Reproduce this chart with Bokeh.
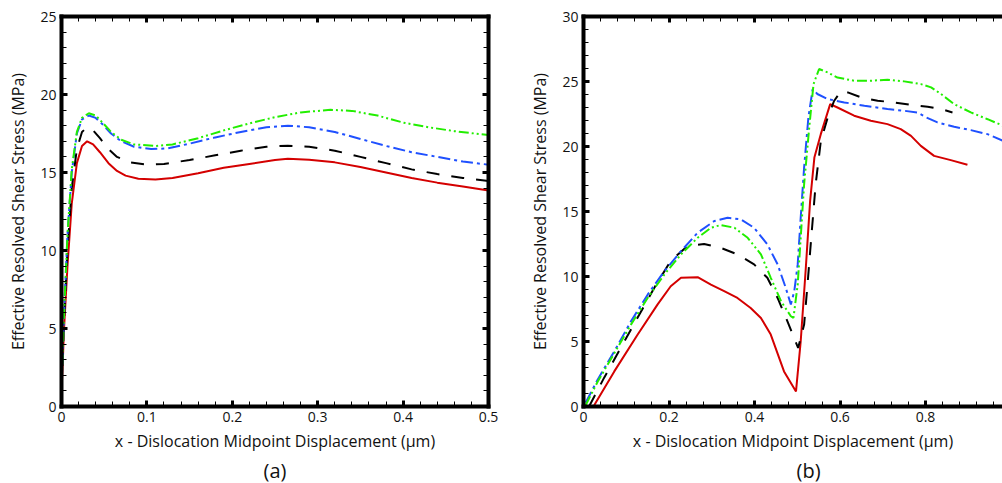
from bokeh.plotting import figure
from bokeh.models import FixedTicker, LinearAxis, Range1d, Title
from bokeh.layouts import row
from bokeh.embed import file_html
from bokeh.resources import INLINE

FONT = "Open Sans"

# ---------------- Panel (a) data ----------------
a_red_x = [0, 0.003, 0.007, 0.012, 0.018, 0.024, 0.030, 0.037, 0.045, 0.055, 0.065, 0.075, 0.09, 0.11, 0.13, 0.16,
           0.19, 0.22, 0.25, 0.265, 0.29, 0.32, 0.35, 0.38, 0.41, 0.44, 0.47, 0.5]
a_red_y = [0.8, 5, 9, 13, 15.6, 16.7, 17.0, 16.8, 16.3, 15.6, 15.1, 14.8, 14.6, 14.55, 14.65, 14.95,
           15.3, 15.55, 15.8, 15.88, 15.82, 15.65, 15.35, 15.0, 14.65, 14.35, 14.1, 13.85]

a_blk_x = [0, 0.003, 0.007, 0.012, 0.018, 0.024, 0.030, 0.037, 0.045, 0.055, 0.065, 0.08, 0.1, 0.12, 0.15, 0.18,
           0.21, 0.24, 0.265, 0.29, 0.32, 0.35, 0.38, 0.41, 0.44, 0.47, 0.5]
a_blk_y = [1, 5.5, 10, 14, 16.5, 17.6, 17.9, 17.7, 17.2, 16.5, 16.0, 15.65, 15.5, 15.55, 15.8, 16.1,
           16.4, 16.65, 16.72, 16.65, 16.4, 16.0, 15.6, 15.2, 14.9, 14.65, 14.45]

a_blu_x = [0, 0.003, 0.007, 0.012, 0.018, 0.024, 0.032, 0.04, 0.048, 0.058, 0.07, 0.085, 0.105, 0.125, 0.15, 0.18,
           0.21, 0.24, 0.265, 0.29, 0.32, 0.35, 0.38, 0.41, 0.44, 0.47, 0.5]
a_blu_y = [1.2, 6, 11, 15, 17.5, 18.4, 18.65, 18.5, 18.1, 17.5, 17.0, 16.65, 16.5, 16.55, 16.85, 17.25,
           17.6, 17.9, 18.0, 17.9, 17.6, 17.15, 16.7, 16.3, 16.0, 15.7, 15.5]

a_grn_x = [0, 0.003, 0.007, 0.012, 0.018, 0.024, 0.032, 0.04, 0.048, 0.058, 0.07, 0.085, 0.11, 0.13, 0.16, 0.19,
           0.22, 0.25, 0.28, 0.315, 0.34, 0.37, 0.4, 0.43, 0.46, 0.5]
a_grn_y = [1.2, 6, 11, 15.2, 17.6, 18.5, 18.8, 18.65, 18.2, 17.6, 17.1, 16.8, 16.7, 16.8, 17.2, 17.7,
           18.15, 18.55, 18.85, 19.02, 18.95, 18.65, 18.2, 17.9, 17.65, 17.4]

a_xticks = [0, 0.1, 0.2, 0.3, 0.4, 0.5]
a_xlabels = ["0", "0.1", "0.2", "0.3", "0.4", "0.5"]
a_yticks = [0, 5, 10, 15, 20, 25]
a_ylabels = ["0", "5", "10", "15", "20", "25"]

# ---------------- Panel (b) data ----------------
b_red_x = [0.025, 0.072, 0.126, 0.173, 0.204, 0.228, 0.267, 0.298, 0.329, 0.36, 0.391, 0.415, 0.438, 0.469, 0.497,
           0.508, 0.52, 0.53, 0.54, 0.555, 0.577, 0.594, 0.633, 0.672, 0.711, 0.742, 0.766, 0.789, 0.82, 0.859, 0.898]
b_red_y = [0.1, 2.7, 5.5, 7.84, 9.25, 9.9, 9.95, 9.38, 8.87, 8.35, 7.58, 6.81, 5.53, 2.7, 1.16,
           5.0, 10.67, 15.8, 19.15, 20.95, 23.26, 23.0, 22.37, 21.98, 21.72, 21.34, 20.82, 20.05, 19.28, 18.95, 18.59]

b_blk_x = [0.013, 0.048, 0.087, 0.126, 0.165, 0.204, 0.243, 0.282, 0.321, 0.36, 0.399, 0.43, 0.454, 0.477, 0.502,
           0.516, 0.524, 0.532, 0.543, 0.555, 0.571, 0.586, 0.602, 0.618, 0.649, 0.688, 0.727, 0.766, 0.805, 0.836, 0.863]
b_blk_y = [0.0, 2.2, 4.5, 6.8, 9.1, 11.2, 12.34, 12.5, 12.2, 11.7, 10.93, 9.9, 8.35, 6.55, 4.5,
           6.3, 9.4, 12.7, 17.1, 20.4, 22.2, 23.5, 24.24, 24.16, 23.78, 23.52, 23.39, 23.2, 23.06, 22.88, 22.62]

b_blu_x = [0.005, 0.033, 0.072, 0.111, 0.15, 0.189, 0.228, 0.267, 0.306, 0.337, 0.368, 0.399, 0.43, 0.454, 0.473, 0.485,
           0.493, 0.501, 0.508, 0.516, 0.526, 0.536, 0.547, 0.571, 0.61, 0.657, 0.711, 0.75, 0.781, 0.801, 0.828,
           0.867, 0.906, 0.945, 0.981]
b_blu_y = [0.3, 2.06, 4.24, 6.55, 8.6, 10.4, 11.95, 13.37, 14.27, 14.52, 14.4, 13.75, 12.47, 10.93, 9.13, 7.84,
           8.87, 10.93, 14.52, 18.38, 22.24, 24.42, 24.04, 23.65, 23.39, 23.14, 22.88, 22.75, 22.62, 22.24, 21.85,
           21.52, 21.26, 20.95, 20.44]

b_grn_x = [0.005, 0.033, 0.072, 0.111, 0.15, 0.189, 0.228, 0.267, 0.298, 0.321, 0.353, 0.384, 0.415, 0.438, 0.462, 0.485,
           0.491, 0.501, 0.508, 0.516, 0.528, 0.538, 0.551, 0.571, 0.594, 0.633, 0.672, 0.711, 0.75, 0.789, 0.813,
           0.836, 0.867, 0.906, 0.945, 0.981]
b_grn_y = [0.1, 1.9, 4.1, 6.3, 8.35, 10.15, 11.7, 12.98, 13.75, 13.96, 13.75, 12.98, 11.7, 9.9, 8.1, 6.94,
           6.81, 9.38, 12.98, 17.1, 21.47, 24.8, 25.96, 25.7, 25.3, 25.06, 25.06, 25.14, 25.01, 24.8, 24.55,
           24.04, 23.26, 22.62, 22.1, 21.6]

b_xticks = [0, 0.2, 0.4, 0.6, 0.8]
b_xlabels = ["0", "0.2", "0.4", "0.6", "0.8"]
b_yticks = [0, 5, 10, 15, 20, 25, 30]
b_ylabels = ["0", "5", "10", "15", "20", "25", "30"]

XLABEL = "x - Dislocation Midpoint Displacement (\u00b5m)"
YLABEL = "Effective Resolved Shear Stress (MPa)"

RED, BLACK, BLUE, GREEN = "#d40000", "#000000", "#1f50ff", "#22ee00"
LW = 2


def style_axis(ax, ticks, minor, labels=None, show_labels=True):
    ax.ticker = FixedTicker(ticks=ticks, minor_ticks=minor)
    ax.axis_line_width = 4
    ax.axis_line_color = "black"
    ax.axis_line_cap = "square"
    ax.major_tick_in = 6
    ax.major_tick_out = 0
    ax.major_tick_line_width = 3
    ax.minor_tick_in = 5
    ax.minor_tick_out = 0
    ax.minor_tick_line_width = 1
    if show_labels:
        ax.major_label_overrides = {t: l for t, l in zip(ticks, labels)}
        ax.major_label_text_font = FONT
        ax.major_label_text_font_size = "14px"
        ax.major_label_text_color = "#111111"
        ax.major_label_standoff = 5
        ax.axis_label_text_font = FONT
        ax.axis_label_text_font_size = "16px"
        ax.axis_label_text_font_style = "normal"
        ax.axis_label_text_color = "#111111"
    else:
        ax.major_label_overrides = {t: "" for t in ticks}
        ax.major_label_text_font_size = "1px"
        ax.major_label_standoff = 0
        ax.axis_label = None


def make_panel(xr, yr, fw, fh, left, right, top, bottom, xticks, xminor, xlabels, yticks, yminor, ylabels,
               mirror_right):
    p = figure(output_backend="svg", toolbar_location=None,
               x_range=Range1d(*xr), y_range=Range1d(*yr),
               frame_width=fw, frame_height=fh,
               min_border_left=left, min_border_right=right, min_border_top=top, min_border_bottom=bottom,
               x_axis_label=XLABEL, y_axis_label=YLABEL)
    p.outline_line_color = None
    p.grid.visible = False
    p.background_fill_color = "white"
    p.border_fill_color = "white"
    style_axis(p.xaxis[0], xticks, xminor, xlabels)
    style_axis(p.yaxis[0], yticks, yminor, ylabels)
    top_ax = LinearAxis()
    style_axis(top_ax, xticks, xminor, show_labels=False)
    p.add_layout(top_ax, "above")
    if mirror_right:
        r_ax = LinearAxis()
        style_axis(r_ax, yticks, yminor, show_labels=False)
        p.add_layout(r_ax, "right")
    return p


a_xminor = [round(0.02 * i, 3) for i in range(26)]
a_yminor = list(range(0, 26))
pa = make_panel((0, 0.5), (0, 25), 427, 390, 61, 20, 13, 80,
                a_xticks, a_xminor, a_xlabels, a_yticks, a_yminor, a_ylabels, True)
pa.xaxis[0].axis_label_standoff = 1
pa.yaxis[0].axis_label_standoff = 8
pa.line(a_red_x, a_red_y, line_color=RED, line_width=LW)
pa.line(a_blk_x, a_blk_y, line_color=BLACK, line_width=LW, line_dash="13 12")
pa.line(a_blu_x, a_blu_y, line_color=BLUE, line_width=LW, line_dash="12 4 3 4")
pa.line(a_grn_x, a_grn_y, line_color=GREEN, line_width=LW, line_dash="10 3 2 3 2 3")
pa.add_layout(Title(text="(a)", align="center", text_font=FONT, text_font_size="20px",
                    text_font_style="normal", text_color="#111111", standoff=0), "below")

b_xminor = [round(0.04 * i, 3) for i in range(26)]
b_yminor = list(range(0, 31))
pb = make_panel((0, 0.98), (0, 30), 419, 390, 75, 0, 16, 77,
                b_xticks, b_xminor, b_xlabels, b_yticks, b_yminor, b_ylabels, False)
pb.xaxis[0].axis_label_standoff = 1
pb.yaxis[0].axis_label_standoff = 8
pb.line(b_red_x, b_red_y, line_color=RED, line_width=LW)
pb.line(b_blk_x, b_blk_y, line_color=BLACK, line_width=LW, line_dash="13 12")
pb.line(b_blu_x, b_blu_y, line_color=BLUE, line_width=LW, line_dash="12 4 3 4")
pb.line(b_grn_x, b_grn_y, line_color=GREEN, line_width=LW, line_dash="10 3 2 3 2 3")
pb.add_layout(Title(text="(b)", align="left", text_font=FONT, text_font_size="20px",
                    text_font_style="normal", text_color="#111111", standoff=0, offset=213), "below")

layout = row(pa, pb, spacing=0)
open("out.html", "w").write(file_html(layout, INLINE))
